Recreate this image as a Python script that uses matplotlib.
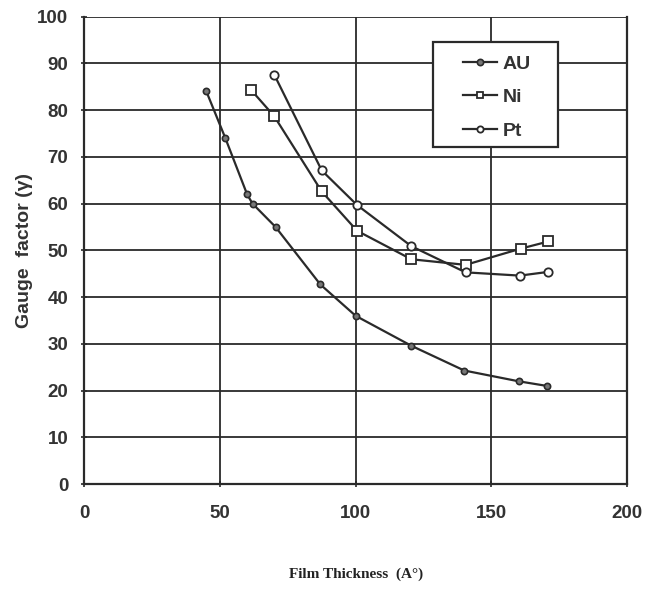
import matplotlib
matplotlib.use("Agg")
import matplotlib.pyplot as plt
from matplotlib.patches import Rectangle

# film thickness (A) and gauge factor
au_x = [45, 52, 60, 62, 70.5, 87, 100, 120.5, 140, 160, 170.5]
au_y = [84, 74, 62, 60, 55, 42.7, 36, 29.6, 24.3, 22, 21]

ni_x = [61.5, 70, 87.5, 100.5, 120.5, 140.5, 161, 171]
ni_y = [84.3, 78.7, 62.6, 54.2, 48.1, 46.9, 50.4, 51.9]

pt_x = [70, 87.5, 100.5, 120.5, 140.5, 160.5, 171]
pt_y = [87.6, 67.1, 59.7, 50.9, 45.3, 44.6, 45.4]

x_ticks = [0, 50, 100, 150, 200]
y_ticks = list(range(0, 101, 10))

ink = "#2a2a2a"

fig = plt.figure(figsize=(6.58, 5.94), dpi=100)
ax = fig.add_axes([0.128, 0.185, 0.825, 0.787])

ax.plot(au_x, au_y, color=ink, lw=1.6, marker="o", ms=4.5,
        mfc="#777777", mec=ink, mew=1.2, label="AU")
ax.plot(ni_x, ni_y, color=ink, lw=1.6, marker="s", ms=6.5,
        mfc="white", mec=ink, mew=1.3, label="Ni")
ax.plot(pt_x, pt_y, color=ink, lw=1.6, marker="o", ms=6,
        mfc="white", mec=ink, mew=1.3, label="Pt")

ax.set_xlim(0, 200)
ax.set_ylim(0, 100)
ax.set_xticks(x_ticks)
ax.set_yticks(y_ticks)
ax.grid(True, color=ink, lw=1.3)
ax.set_axisbelow(True)

for s in ["left", "bottom", "right"]:
    ax.spines[s].set_color(ink)
    ax.spines[s].set_linewidth(1.6)
ax.spines["top"].set_visible(False)

ax.tick_params(axis="both", colors=ink, length=5, width=1.2, labelsize=13.5,
               direction="inout")
for lab in ax.get_xticklabels() + ax.get_yticklabels():
    lab.set_family("Liberation Sans")
    lab.set_fontweight("bold")
    lab.set_color("#333333")
ax.tick_params(axis="x", pad=12.5)
ax.tick_params(axis="y", pad=9)

ax.set_ylabel("Gauge  factor (\u03b3)", fontsize=14, fontweight="bold",
              family="Liberation Sans", color="#333333", labelpad=3)
ax.set_xlabel("Film Thickness  (A\u00b0)", fontsize=11, fontweight="bold",
              family="Liberation Serif", color="#222222", labelpad=33)

# legend box drawn by hand, entries placed inside it
box = Rectangle((0.643, 0.722), 0.23, 0.224, transform=ax.transAxes,
                facecolor="white", edgecolor=ink, lw=1.6, zorder=5)
ax.add_patch(box)
leg = ax.legend(loc="upper left", bbox_to_anchor=(0.698, 0.918),
                frameon=False, handlelength=1.75, borderpad=0,
                borderaxespad=0, labelspacing=0.82, handletextpad=0.3,
                prop={"family": "Liberation Sans", "weight": "bold", "size": 14})
leg.set_zorder(6)
for t in leg.get_texts():
    t.set_color("#333333")
for h in leg.legend_handles:
    h.set_markersize(4.5)

fig.savefig("out.png", dpi=100, facecolor="white")
